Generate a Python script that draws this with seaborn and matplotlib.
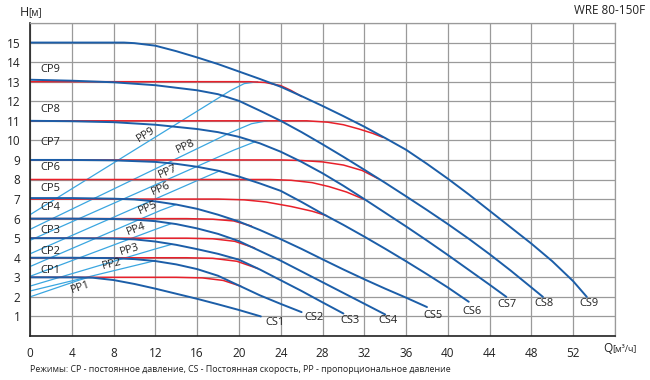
import numpy as np
import pandas as pd
import matplotlib
matplotlib.use('Agg')
import matplotlib.pyplot as plt
import seaborn as sns

# CS - constant speed curves, (Q, H) points
cs1 = [(0, 3.0), (4, 3.0), (6, 2.98), (8, 2.86), (10, 2.66), (12, 2.42), (14, 2.16), (16, 1.9),
       (18, 1.62), (20, 1.33), (22.1, 1.0)]
cs2 = [(0, 4.0), (4, 4.0), (8, 3.98), (10, 3.93), (12, 3.83), (14, 3.66), (16, 3.42), (18, 3.08),
       (20, 2.58), (22, 2.08), (24, 1.64), (26, 1.22)]
cs3 = [(0, 5.0), (4, 5.0), (8, 4.98), (10, 4.94), (12, 4.83), (14, 4.66), (16, 4.44), (18, 4.2),
       (20, 3.9), (22, 3.4), (24, 2.85), (26, 2.3), (28, 1.72), (30, 1.15)]
cs4 = [(0, 6.0), (4, 6.0), (8, 5.98), (10, 5.95), (12, 5.87), (14, 5.72), (16, 5.5), (18, 5.22),
       (20, 4.85), (22, 4.35), (24, 3.85), (26, 3.3), (28, 2.75), (30, 2.2), (32, 1.65), (34, 1.1)]
cs5 = [(0, 7.05), (4, 7.05), (8, 7.02), (10, 6.98), (12, 6.88), (14, 6.72), (16, 6.5), (18, 6.2),
       (20, 5.85), (22, 5.42), (24, 4.95), (26, 4.45), (28, 3.92), (30, 3.4), (32, 2.9), (34, 2.42),
       (36, 1.96), (38, 1.48)]
cs6 = [(0, 9.0), (4, 9.0), (8, 8.98), (12, 8.9), (14, 8.8), (16, 8.65), (18, 8.45), (20, 8.15),
       (22, 7.8), (24, 7.42), (26, 6.85), (28, 6.25), (30, 5.68), (32, 5.08), (34, 4.46), (36, 3.82),
       (38, 3.16), (40, 2.48), (42, 1.75)]
cs7 = [(0, 11.0), (4, 10.98), (8, 10.93), (12, 10.8), (16, 10.58), (18, 10.42), (20, 10.18),
       (22, 9.85), (24, 9.42), (26, 8.9), (28, 8.32), (30, 7.68), (32, 7.0), (34, 6.3), (36, 5.6),
       (38, 4.88), (40, 4.14), (42, 3.38), (44, 2.62), (45.6, 2.0)]
cs8 = [(0, 13.1), (4, 13.05), (8, 12.97), (12, 12.82), (16, 12.56), (18, 12.36), (20, 12.02),
       (22, 11.52), (24, 11.0), (26, 10.42), (28, 9.8), (30, 9.16), (32, 8.5), (34, 7.83), (36, 7.14),
       (38, 6.44), (40, 5.72), (42, 4.97), (44, 4.18), (46, 3.35), (48, 2.48), (49.1, 2.0)]
cs9 = [(0, 15.0), (9, 15.0), (10, 14.97), (12, 14.84), (14, 14.56), (16, 14.24), (18, 13.9),
       (20, 13.52), (22, 13.14), (24, 12.74), (26, 12.26), (28, 11.76), (30, 11.24), (32, 10.7),
       (34, 10.12), (36, 9.52), (38, 8.8), (40, 8.04), (42, 7.24), (44, 6.4), (46, 5.56), (48, 4.72),
       (50, 3.82), (52, 2.8), (53.3, 2.0)]

# CP - constant pressure
cp1 = [(0, 3.0), (14, 3.0), (16.5, 2.97), (18.5, 2.84), (20.2, 2.54)]
cp2 = [(0, 4.0), (15, 4.0), (17.5, 3.97), (19.8, 3.82), (21.8, 3.45)]
cp3 = [(0, 5.0), (15, 5.0), (17.5, 4.97), (19.6, 4.84), (21.5, 4.5)]
cp4 = [(0, 6.0), (15, 6.0), (17.5, 5.97), (19.5, 5.88), (21.2, 5.62)]
cp5 = [(0, 7.0), (18, 7.0), (20.5, 6.96), (22.6, 6.85), (25, 6.62), (27, 6.38), (28.4, 6.15)]
cp6 = [(0, 8.0), (23, 8.0), (25, 7.96), (27, 7.84), (28.6, 7.64), (30.3, 7.36), (32, 6.98)]
cp7 = [(0, 9.0), (24, 9.0), (26, 8.97), (28, 8.9), (30, 8.74), (31.8, 8.46), (33.3, 8.05)]
cp8 = [(0, 11.0), (26.5, 11.0), (28.5, 10.93), (30, 10.8), (31.5, 10.58), (32.8, 10.36), (33.8, 10.15)]
cp9 = [(0, 13.0), (21, 13.0), (22.5, 12.96), (24, 12.8), (25, 12.55), (26, 12.24)]

# PP - proportional pressure
pp1 = [(0, 2.0), (4.5, 2.82), (5.6, 3.0)]
pp2 = [(0, 2.3), (10.5, 3.66), (11.9, 3.84)]
pp3 = [(0, 2.55), (12, 4.45), (13.6, 4.69)]
pp4 = [(0, 3.05), (12, 5.45), (13.5, 5.74)]
pp5 = [(0, 3.55), (12.5, 6.42), (14.0, 6.72)]
pp6 = [(0, 4.2), (16.5, 8.06), (18.2, 8.45)]
pp7 = [(0, 4.89), (19.5, 9.5), (21.5, 9.92)]
pp8 = [(0, 5.45), (19.2, 10.4), (21.2, 10.85), (22.7, 11.0)]
pp9 = [(0, 6.2), (19.2, 12.55), (20.5, 12.9), (21.8, 13.0)]

cs_names = ['CS1', 'CS2', 'CS3', 'CS4', 'CS5', 'CS6', 'CS7', 'CS8', 'CS9']
cp_names = ['CP1', 'CP2', 'CP3', 'CP4', 'CP5', 'CP6', 'CP7', 'CP8', 'CP9']
pp_names = ['PP1', 'PP2', 'PP3', 'PP4', 'PP5', 'PP6', 'PP7', 'PP8', 'PP9']

# label anchors
cs_label_q = [23.5, 27.2, 30.6, 34.3, 38.6, 42.3, 45.7, 49.2, 53.5]
cs_label_h = [0.67, 0.93, 0.77, 0.77, 1.03, 1.23, 1.6, 1.65, 1.65]
cp_label_h = [3.34, 4.34, 5.37, 6.58, 7.55, 8.6, 9.87, 11.6, 13.6]
pp_label_q = [4.6, 8.0, 9.7, 10.4, 11.6, 12.8, 13.5, 15.2, 11.5]
pp_label_side = [-1, 1, 1, 1, 1, 1, 1, 1, 1]

x_ticks = list(range(0, 57, 4))
y_ticks = list(range(0, 17))


def to_frame(curves, names):
    rows = []
    for name, pts in zip(names, curves):
        for q, h in pts:
            rows.append((name, q, h))
    return pd.DataFrame(rows, columns=['curve', 'Q', 'H'])


cs_df = to_frame([cs1, cs2, cs3, cs4, cs5, cs6, cs7, cs8, cs9], cs_names)
cp_df = to_frame([cp1, cp2, cp3, cp4, cp5, cp6, cp7, cp8, cp9], cp_names)
pp_list = [pp1, pp2, pp3, pp4, pp5, pp6, pp7, pp8, pp9]
pp_df = to_frame(pp_list, pp_names)

sns.set_style('white')
plt.rcParams['font.family'] = ['Open Sans', 'DejaVu Sans']

blue = '#1c5ea8'
red = '#e8202a'
cyan = '#3aa6e0'
grid = '#9a9a9a'
txt = '#222222'

fig = plt.figure(figsize=(6.5, 3.8), dpi=100)
ax = fig.add_axes([30 / 650, 44 / 380, 585 / 650, 313 / 380])

sns.lineplot(data=pp_df, x='Q', y='H', units='curve', estimator=None, sort=False,
             color=cyan, lw=0.9, ax=ax)
sns.lineplot(data=cp_df, x='Q', y='H', units='curve', estimator=None, sort=False,
             color=red, lw=1.1, ax=ax)
sns.lineplot(data=cs_df, x='Q', y='H', units='curve', estimator=None, sort=False,
             color=blue, lw=1.4, ax=ax)

ax.set_xlim(0, 56)
ax.set_ylim(0, 16)
ax.set_xticks(x_ticks)
ax.set_xticklabels([str(v) for v in x_ticks[:-1]] + [''])
ax.set_yticks(y_ticks)
ax.set_yticklabels([''] + [str(v) for v in y_ticks[1:-1]] + [''])
ax.grid(True, color=grid, lw=0.9)
ax.set_axisbelow(True)
ax.set_xlabel('')
ax.set_ylabel('')
for side in ['left', 'bottom']:
    ax.spines[side].set_color(txt)
    ax.spines[side].set_linewidth(1.2)
for side in ['top', 'right']:
    ax.spines[side].set_color(grid)
    ax.spines[side].set_linewidth(0.9)
ax.tick_params(axis='x', direction='out', length=3, width=0.8, color=txt, pad=5,
               labelsize=8.5, labelcolor=txt)
ax.tick_params(axis='y', length=0, pad=7, labelsize=8.5, labelcolor=txt)

# curve labels
for name, q, h in zip(cs_names, cs_label_q, cs_label_h):
    ax.text(q, h, name, ha='center', va='center', fontsize=8, color=txt)
for name, h in zip(cp_names, cp_label_h):
    ax.text(1.0, h, name, ha='left', va='center', fontsize=8, color=txt)

# PP labels sit just beside their line, turned along it
fig.canvas.draw()
for name, pts, q, side in zip(pp_names, pp_list, pp_label_q, pp_label_side):
    qs = [p[0] for p in pts]
    hs = [p[1] for p in pts]
    p0 = ax.transData.transform(pts[0])
    p1 = ax.transData.transform(pts[1])
    a = np.arctan2(p1[1] - p0[1], p1[0] - p0[0])
    on_line = ax.transData.transform((q, np.interp(q, qs, hs)))
    shifted = on_line + side * 7 * np.array([-np.sin(a), np.cos(a)])
    lq, lh = ax.transData.inverted().transform(shifted)
    ax.text(lq, lh, name, ha='center', va='center', fontsize=8, color=txt,
            rotation=np.degrees(a), rotation_mode='anchor')

fig.text(20 / 650, 1 - 13 / 380, 'H', fontsize=9, color=txt, va='center', ha='left')
fig.text(28 / 650, 1 - 13 / 380, '[м]', fontsize=7, color=txt, va='center', ha='left')
fig.text(603 / 650, 1 - 349 / 380, 'Q', fontsize=8.5, color=txt, va='center', ha='left')
fig.text(612 / 650, 1 - 349 / 380, '[м³/ч]', fontsize=6.5, color=txt, va='center', ha='left')
fig.text(645 / 650, 1 - 11 / 380, 'WRE 80-150F', fontsize=8.5, color=txt, va='center', ha='right')
fig.text(30 / 650, 1 - 370 / 380,
         'Режимы: CP - постоянное давление, CS - Постоянная скорость, PP - пропорциональное давление',
         fontsize=6.4, color=txt, va='center', ha='left')

fig.savefig('out.png', dpi=100)
